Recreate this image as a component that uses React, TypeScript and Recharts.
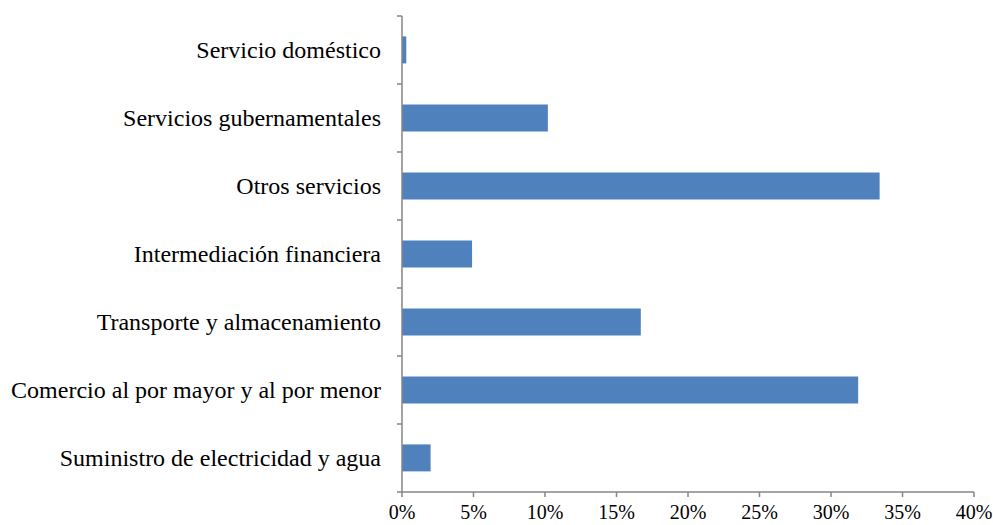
import { Bar, BarChart, XAxis, YAxis } from "recharts"

const categories = [
  "Servicio doméstico",
  "Servicios gubernamentales",
  "Otros servicios",
  "Intermediación financiera",
  "Transporte y almacenamiento",
  "Comercio al por mayor y al por menor",
  "Suministro de electricidad y agua",
]

const shares = [0.3, 10.2, 33.4, 4.9, 16.7, 31.9, 2.0]

const xTicks = [0, 5, 10, 15, 20, 25, 30, 35, 40]

const data = categories.map((name, i) => ({ name, value: shares[i] }))

const W = 993
const H = 525
const TOP = 16
const BOTTOM_AXIS = 33
const Y_AXIS_W = 402
const AXIS_COLOR = "#868686"
const FONT = "Liberation Serif"

const CategoryTick = (props: any) => {
  const { y, payload, index } = props
  const band = (H - TOP - BOTTOM_AXIS) / categories.length
  const top = y - band / 2
  return (
    <g>
      <line x1={Y_AXIS_W - 5} x2={Y_AXIS_W} y1={top} y2={top} stroke={AXIS_COLOR} strokeWidth={1.5} />
      {index === categories.length - 1 && (
        <line x1={Y_AXIS_W - 5} x2={Y_AXIS_W} y1={top + band} y2={top + band} stroke={AXIS_COLOR} strokeWidth={1.5} />
      )}
      <text x={Y_AXIS_W - 21} y={y} dy={8} textAnchor="end" fontFamily={FONT} fontSize={24} fill="#000">
        {payload.value}
      </text>
    </g>
  )
}

export default function App() {
  return (
    <div style={{ position: "absolute", left: 0, top: 0, background: "#fff" }}>
      <BarChart
        width={W}
        height={H}
        data={data}
        layout="vertical"
        margin={{ top: TOP, right: 19, bottom: 0, left: 0 }}
        barCategoryGap="30%"
      >
        <XAxis
          type="number"
          domain={[0, 40]}
          ticks={xTicks}
          interval={0}
          height={BOTTOM_AXIS}
          stroke={AXIS_COLOR}
          strokeWidth={1.5}
          tickSize={5}
          tickMargin={8}
          tickFormatter={(v) => `${v}%`}
          tick={{ fill: "#000", fontSize: 20, fontFamily: FONT }}
        />
        <YAxis
          type="category"
          dataKey="name"
          width={Y_AXIS_W}
          stroke={AXIS_COLOR}
          strokeWidth={1.5}
          tickLine={false}
          interval={0}
          tick={<CategoryTick />}
        />
        <Bar dataKey="value" fill="#4F81BD" isAnimationActive={false} />
      </BarChart>
    </div>
  )
}
